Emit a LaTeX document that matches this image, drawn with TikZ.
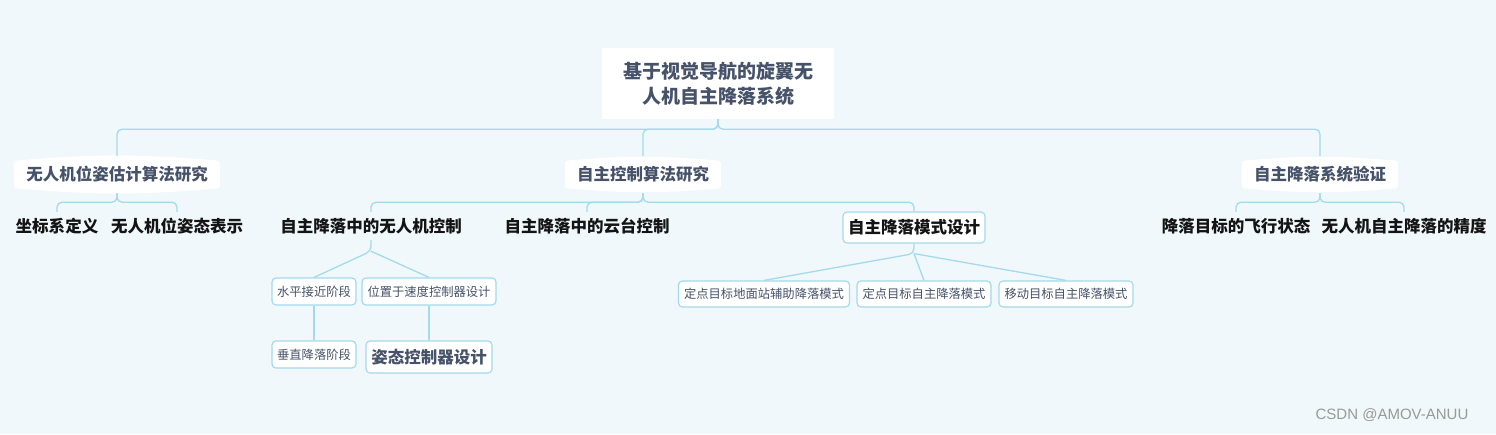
\documentclass[tikz,border=0pt]{standalone}
\usepackage{fontspec}
\setmainfont{Noto Sans CJK SC}
\newfontfamily\latinsans{Liberation Sans}
\usetikzlibrary{positioning, backgrounds}
\definecolor{paper}{RGB}{240,248,251}
\definecolor{wire}{RGB}{163,218,236}
\definecolor{slate}{RGB}{70,82,105}
\definecolor{ink}{RGB}{20,20,20}
\tikzset{
    x=1pt, y=-1pt, % one unit is one pixel of the sketch, y grows downwards
    every node/.style={inner sep=0pt, align=center}, % sizes are set by hand below
    link/.style={draw=wire, line width=1.3pt, rounded corners=5pt}, % the connectors
    root/.style={fill=white, text=slate, font=\fontsize{19}{25}\selectfont\bfseries, minimum width=232pt, minimum height=71pt},
    topic/.style={text=slate, font=\fontsize{16.5}{20}\selectfont\bfseries, minimum height=37pt},
    leaf/.style={text=ink, font=\fontsize{16.5}{20}\selectfont\bfseries, minimum height=28pt},
    card/.style={fill=white, draw=wire, line width=1.2pt, rounded corners=4pt, text=slate, font=\fontsize{12.3}{15}\selectfont, minimum height=27pt},
    bigcard/.style={card, font=\fontsize{16.5}{20}\selectfont\bfseries},
    }

\begin{document}
\begin{tikzpicture}
    \useasboundingbox (0,0) rectangle (1496,434);

    % main topic and the three branches
    \node[root] (root) at (718,83.5) {基于视觉导航的旋翼无\\人机自主降落系统};
    \node[topic, minimum width=206pt] (n1) at (117,174.5) {无人机位姿估计算法研究};
    \node[topic, minimum width=156pt] (n2) at (643,174.5) {自主控制算法研究};
    \node[topic, minimum width=156pt] (n3) at (1320,174.5) {自主降落系统验证};
    \begin{scope}[on background layer]
        \fill[paper] (0,0) rectangle (1496,434);
        \foreach \n in {n1,n2,n3}
            \fill[white, rounded corners=3pt] ([yshift=-5pt]\n.north west) to[bend left=5] ([yshift=-5pt]\n.north east)
                -- ([yshift=5pt]\n.south east) to[bend left=5] ([yshift=5pt]\n.south west) -- cycle;
    \end{scope}

    % second level
    \node[leaf] (a1) at (57,226) {坐标系定义};
    \node[leaf] (a2) at (177,226) {无人机位姿态表示};
    \node[leaf] (b1) at (371,226) {自主降落中的无人机控制};
    \node[leaf] (b2) at (587,226) {自主降落中的云台控制};
    \node[bigcard, text=ink, minimum width=142pt, minimum height=31pt] (b3) at (914,227.5) {自主降落模式设计};
    \node[leaf] (e1) at (1236,226) {降落目标的飞行状态};
    \node[leaf] (e2) at (1404,226) {无人机自主降落的精度};

    % third level
    \node[card, minimum width=84pt] (c1) at (314,291.5) {水平接近阶段};
    \node[card, minimum width=134pt] (c2) at (429,291.5) {位置于速度控制器设计};
    \node[card, minimum width=84pt] (c3) at (314,354.5) {垂直降落阶段};
    \node[bigcard, minimum width=126pt, minimum height=32pt] (c4) at (429,357) {姿态控制器设计};
    \node[card, minimum width=171pt, minimum height=26pt] (d1) at (764,294) {定点目标地面站辅助降落模式};
    \node[card, minimum width=134pt, minimum height=26pt] (d2) at (924,294) {定点目标自主降落模式};
    \node[card, minimum width=134pt, minimum height=26pt] (d3) at (1066,294) {移动目标自主降落模式};

    \node[text=gray!80, font=\latinsans\fontsize{15}{18}\selectfont] (mark) at (1392,415) {CSDN @AMOV-ANUU};

    % connectors
    \draw[link] (root.south) -- ++(0,10) -| (n1.north);
    \draw[link] (root.south) -- ++(0,10) -| (n2.north);
    \draw[link] (root.south) -- ++(0,10) -| (n3.north);
    \draw[link] (n1.south) -- ++(0,9) -| (a1.north);
    \draw[link] (n1.south) -- ++(0,9) -| (a2.north);
    \draw[link] (n2.south) -- ++(0,9) -| (b1.north);
    \draw[link] (n2.south) -- ++(0,9) -| (b2.north);
    \draw[link] (n2.south) -- ++(0,9) -| (b3.north);
    \draw[link] (n3.south) -- ++(0,9) -| (e1.north);
    \draw[link] (n3.south) -- ++(0,9) -| (e2.north);
    \draw[link] (b1.south) -- ++(0,11) coordinate (j1) -- (c1.north);
    \draw[link] (j1) -- (c2.north);
    \draw[link] (c1) -- (c3);
    \draw[link] (c2) -- (c4);
    \draw[link] (b3.south) -- ++(0,10) coordinate (j2) -- (d1.north);
    \draw[link] (j2) -- (d2.north);
    \draw[link] (j2) -- (d3.north);
\end{tikzpicture}
\end{document}
